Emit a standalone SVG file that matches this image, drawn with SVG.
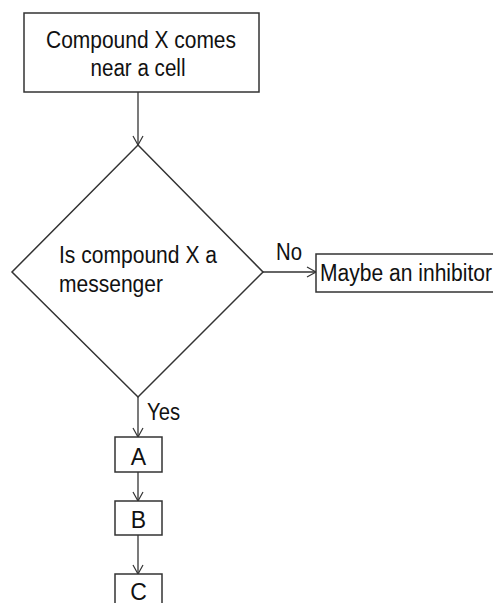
<svg xmlns="http://www.w3.org/2000/svg" width="493" height="603" viewBox="0 0 493 603">
  <defs>
    <marker id="arrow" markerWidth="12" markerHeight="12" refX="10" refY="6" orient="auto" markerUnits="userSpaceOnUse">
      <path d="M1,1 L10,6 L1,11" fill="none" stroke="#333" stroke-width="1.2"/>
    </marker>
  </defs>
  <style>
    .shape { fill: #fff; stroke: #333; stroke-width: 1.5; }
    .label { font-family: "Liberation Sans", Arial, sans-serif; font-size: 23px; fill: #111; }
    .edge { fill: none; stroke: #333; stroke-width: 1.3; marker-end: url(#arrow); }
  </style>
  <rect width="493" height="603" fill="#fff"/>

  <g id="connectors">
    <path class="edge" d="M138,92 L138,145"/>
    <path class="edge" d="M263,272 L316,272"/>
    <path class="edge" d="M138,397 L138,437"/>
    <path class="edge" d="M138,472 L138,501"/>
    <path class="edge" d="M138,535 L138,574"/>
  </g>

  <g id="start">
    <rect class="shape" x="24" y="13" width="235" height="79"/>
    <text class="label" x="141" y="48" text-anchor="middle" textLength="190" lengthAdjust="spacingAndGlyphs">Compound X comes</text>
    <text class="label" x="138" y="76" text-anchor="middle" textLength="95" lengthAdjust="spacingAndGlyphs">near a cell</text>
  </g>

  <g id="decision">
    <polygon class="shape" points="138,145 263,272 138,397 12,272"/>
    <text class="label" x="59" y="263" textLength="158" lengthAdjust="spacingAndGlyphs">Is compound X a</text>
    <text class="label" x="59" y="292" textLength="104" lengthAdjust="spacingAndGlyphs">messenger</text>
  </g>

  <g id="edge-labels">
    <text class="label" x="276" y="260" textLength="26" lengthAdjust="spacingAndGlyphs">No</text>
    <text class="label" x="147" y="420" textLength="33" lengthAdjust="spacingAndGlyphs">Yes</text>
  </g>

  <g id="inhibitor">
    <rect class="shape" x="316" y="254" width="190" height="38"/>
    <text class="label" x="320" y="281" textLength="172" lengthAdjust="spacingAndGlyphs">Maybe an inhibitor</text>
  </g>

  <g id="step-a">
    <rect class="shape" x="115" y="437" width="47" height="35"/>
    <text class="label" x="138.5" y="465" text-anchor="middle">A</text>
  </g>

  <g id="step-b">
    <rect class="shape" x="115" y="501" width="47" height="34"/>
    <text class="label" x="138.5" y="528" text-anchor="middle">B</text>
  </g>

  <g id="step-c">
    <rect class="shape" x="115" y="574" width="47" height="40"/>
    <text class="label" x="138.5" y="600" text-anchor="middle">C</text>
  </g>
</svg>
